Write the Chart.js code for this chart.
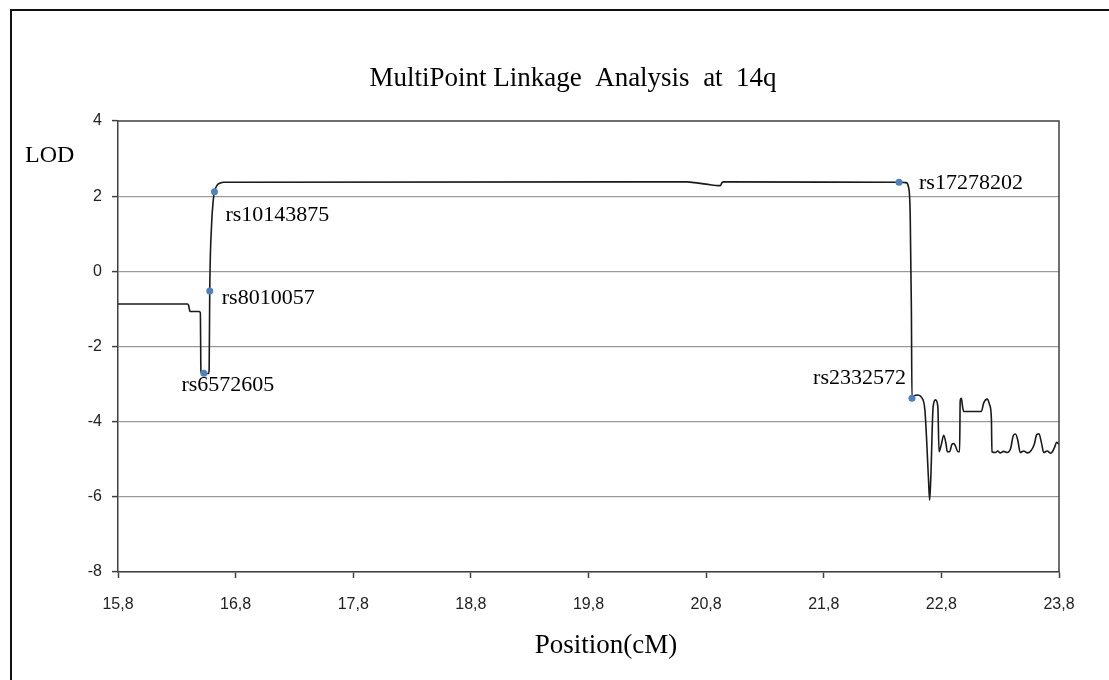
<!DOCTYPE html>
<html>
<head>
<meta charset="utf-8">
<script src="https://cdn.jsdelivr.net/npm/chart.js@4.4.1/dist/chart.umd.min.js"></script>
<style>
  body { margin: 0; background: #fff; }
  #wrap { position: relative; width: 1109px; height: 680px; overflow: hidden; }
  #frame { position: absolute; left: 10px; top: 9px; width: 1120px; height: 700px; border: 2px solid #111; }
  #newChart { position: absolute; left: 0; top: 0; }
</style>
</head>
<body>
<div id="wrap">
  <div id="frame"></div>
  <canvas id="newChart" width="1109" height="680"></canvas>
</div>
<script>
// LOD curve (position in cM, LOD score)
const positions = [
  15.80, 16.39, 16.40, 16.41, 16.42, 16.49, 16.50, 16.505, 16.515, 16.53,
  16.57, 16.575, 16.58, 16.595, 16.61, 16.62, 16.64, 16.67, 16.70, 20.64,
  20.70, 20.80, 20.92, 20.935, 20.95, 22.44, 22.50, 22.52, 22.535, 22.545,
  22.55, 22.57, 22.60, 22.63, 22.66, 22.69, 22.70, 22.71, 22.73, 22.75,
  22.77, 22.78, 22.80, 22.82, 22.84, 22.85, 22.87, 22.89, 22.905, 22.92,
  22.94, 22.955, 22.96, 22.97, 22.98, 22.99, 23.14, 23.16, 23.19, 23.21,
  23.225, 23.23, 23.26, 23.28, 23.30, 23.33, 23.36, 23.39, 23.41, 23.43,
  23.45, 23.47, 23.50, 23.53, 23.56, 23.59, 23.61, 23.63, 23.65, 23.67,
  23.70, 23.73, 23.76, 23.78, 23.80
];
const lodScores = [
  -0.87, -0.87, -0.90, -1.05, -1.07, -1.07, -1.10, -2.65, -2.72, -2.72,
  -2.72, -2.60, -0.52, 1.20, 1.90, 2.12, 2.28, 2.35, 2.37, 2.38,
  2.36, 2.32, 2.28, 2.36, 2.38, 2.37, 2.36, 2.25, 1.50, -1.00,
  -3.38, -3.31, -3.29, -3.35, -3.70, -5.50, -6.09, -5.50, -3.60, -3.42,
  -3.60, -4.80, -4.60, -4.36, -4.60, -4.80, -4.80, -4.60, -4.58, -4.65,
  -4.80, -4.80, -3.45, -3.38, -3.60, -3.73, -3.73, -3.50, -3.40, -3.55,
  -3.90, -4.80, -4.82, -4.78, -4.83, -4.79, -4.82, -4.70, -4.38, -4.33,
  -4.50, -4.82, -4.78, -4.83, -4.78, -4.60, -4.35, -4.32, -4.55, -4.82,
  -4.78, -4.84, -4.70, -4.55, -4.60
];

// Marker SNPs
const snpNames = ['rs6572605', 'rs8010057', 'rs10143875', 'rs17278202', 'rs2332572'];
const snpPositions = [16.53, 16.58, 16.62, 22.44, 22.55];
const snpLods = [-2.71, -0.52, 2.12, 2.37, -3.38];

// Axis ticks
const xTicks = [15.8, 16.8, 17.8, 18.8, 19.8, 20.8, 21.8, 22.8, 23.8];
const yMin = -8;
const yMax = 4;

// label placement relative to each SNP point (pixels)
const labelOffsets = [
  { dx: 24, dy: 12, align: 'center' },
  { dx: 12, dy: 7, align: 'left' },
  { dx: 11, dy: 24, align: 'left' },
  { dx: 20, dy: 1, align: 'left' },
  { dx: -6, dy: -20, align: 'right' }
];

const serif = '"Liberation Serif", "Times New Roman", serif';
const sans = '"Liberation Sans", Arial, sans-serif';

// Draw the plot box, texts and SNP labels
const textPlugin = {
  id: 'texts',
  afterDraw(chart) {
    const c = chart.ctx;
    const area = chart.chartArea;
    const xs = chart.scales.x;
    const ys = chart.scales.y;

    c.save();
    c.strokeStyle = '#404040';
    c.lineWidth = 1.5;
    c.beginPath();
    c.moveTo(area.left, area.top);
    c.lineTo(area.right, area.top);
    c.lineTo(area.right, area.bottom);
    c.stroke();

    c.fillStyle = '#000';
    c.textBaseline = 'middle';
    c.textAlign = 'center';
    c.font = '27px ' + serif;
    c.fillText('MultiPoint Linkage  Analysis  at  14q', 573, 79);
    c.font = '27px ' + serif;
    c.fillText('Position(cM)', 606, 646);
    c.textAlign = 'left';
    c.font = '24px ' + serif;
    c.fillText('LOD', 25, 156);

    c.font = '22px ' + serif;
    snpNames.forEach(function(name, i) {
      const off = labelOffsets[i];
      c.textAlign = off.align;
      c.fillText(name, xs.getPixelForValue(snpPositions[i]) + off.dx, ys.getPixelForValue(snpLods[i]) + off.dy);
    });
    c.restore();
  }
};

function createChart() {
  const ctx = document.getElementById('newChart').getContext('2d');
  const curve = positions.map((x, i) => ({ x: x, y: lodScores[i] }));
  const snps = snpPositions.map((x, i) => ({ x: x, y: snpLods[i] }));

  return new Chart(ctx, {
    type: 'scatter',
    data: {
      datasets: [
        {
          label: 'SNPs',
          data: snps,
          showLine: false,
          pointRadius: 3.5,
          pointBackgroundColor: '#4f81bd',
          pointBorderColor: '#4f81bd',
          pointBorderWidth: 0,
        },
        {
          label: 'LOD',
          data: curve,
          showLine: true,
          borderColor: '#1a1a1a',
          borderWidth: 1.6,
          pointRadius: 0,
          cubicInterpolationMode: 'monotone',
        },
      ],
    },
    options: {
      responsive: false,
      animation: false,
      devicePixelRatio: 1,
      layout: { padding: { top: 121, right: 50, bottom: 0, left: 0 } },
      plugins: {
        legend: { display: false },
        tooltip: { enabled: false },
      },
      scales: {
        x: {
          type: 'linear',
          min: 15.8,
          max: 23.8,
          afterBuildTicks: function(scale) {
            scale.ticks = xTicks.map((v) => ({ value: v }));
          },
          afterFit: function(scale) {
            scale.height = 108;
          },
          grid: { drawOnChartArea: false, tickLength: 6, tickColor: '#404040', tickWidth: 1.5 },
          border: { color: '#404040', width: 1.5 },
          ticks: {
            padding: 17,
            color: '#222',
            font: { family: sans, size: 16 },
            maxRotation: 0,
            callback: (v) => v.toFixed(1).replace('.', ','),
          },
        },
        y: {
          min: yMin,
          max: yMax,
          afterFit: function(scale) {
            scale.width = 118;
          },
          grid: {
            color: (c) => (c.tick && c.tick.value === yMax ? 'rgba(0,0,0,0)' : '#9a9a9a'),
            lineWidth: 1.2,
            tickLength: 6,
            tickColor: '#404040',
            tickWidth: 1.5,
          },
          border: { color: '#404040', width: 1.5 },
          ticks: {
            stepSize: 2,
            padding: 10,
            color: '#222',
            font: { family: sans, size: 16 },
          },
        },
      },
    },
    plugins: [textPlugin],
  });
}

createChart();
</script>
</body>
</html>
